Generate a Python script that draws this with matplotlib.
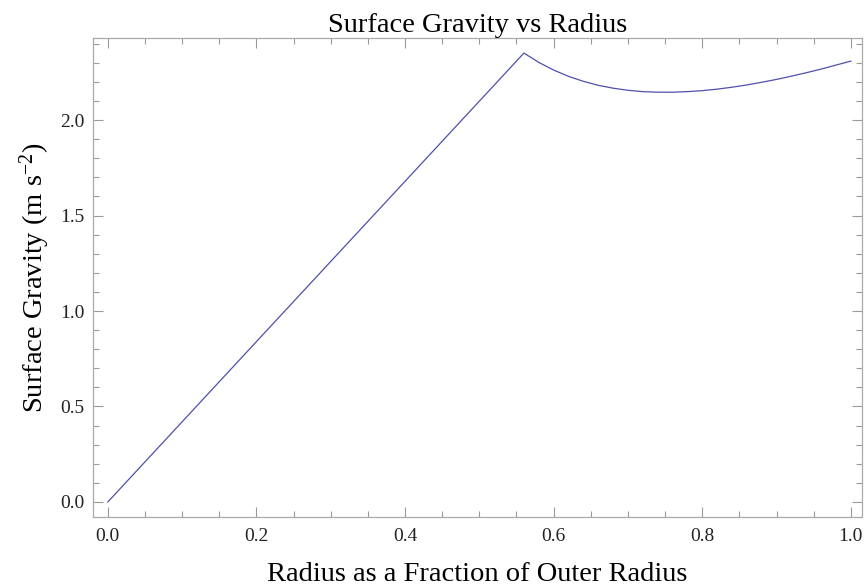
import matplotlib
matplotlib.use("Agg")
import matplotlib.pyplot as plt
from matplotlib.ticker import MultipleLocator

plt.rcParams['font.family'] = ['Liberation Serif', 'DejaVu Serif']
plt.rcParams['mathtext.default'] = 'regular'

# Data
radius = [0.0, 0.56, 0.58, 0.60, 0.62, 0.64, 0.66, 0.68, 0.70, 0.72, 0.74, 0.76,
          0.78, 0.80, 0.82, 0.84, 0.86, 0.88, 0.90, 0.92, 0.94, 0.96, 0.98, 1.00]
gravity = [0.0, 2.351, 2.302, 2.262, 2.229, 2.203, 2.182, 2.167, 2.156, 2.149, 2.146, 2.146,
           2.149, 2.154, 2.162, 2.172, 2.184, 2.198, 2.213, 2.230, 2.248, 2.267, 2.288, 2.309]
xticks = [0.0, 0.2, 0.4, 0.6, 0.8, 1.0]
yticks = [0.0, 0.5, 1.0, 1.5, 2.0]

fig = plt.figure(figsize=(8.64, 5.86), dpi=100)
ax = fig.add_axes([0.1076, 0.1177, 0.8901, 0.8175])
ax.plot(radius, gravity, color='#5050ad', lw=0.9)

ax.set_xlim(-0.02, 1.015)
ax.set_ylim(-0.079, 2.43)
ax.set_xticks(xticks)
ax.set_yticks(yticks)
ax.set_xticklabels([f"{v:.1f}" for v in xticks])
ax.set_yticklabels([f"{v:.1f}" for v in yticks])
ax.xaxis.set_minor_locator(MultipleLocator(0.05))
ax.yaxis.set_minor_locator(MultipleLocator(0.1))
ax.tick_params(which='both', direction='in', top=True, right=True, color='#999999',
               labelsize=14, labelcolor='#222222', width=0.8)
ax.tick_params(which='major', length=7)
ax.tick_params(which='minor', length=4)
ax.tick_params(axis='x', which='major', pad=8)
ax.tick_params(axis='y', which='major', pad=6)
for s in ax.spines.values():
    s.set_color('#aaaaaa')
    s.set_linewidth(0.9)

ax.set_title('Surface Gravity vs Radius', fontsize=20.5, pad=3)
ax.set_xlabel('Radius as a Fraction of Outer Radius', fontsize=20.5, labelpad=12)
ax.set_ylabel('Surface Gravity (m s$^{-2}$)', fontsize=20.5, labelpad=6)

fig.savefig('out.png', dpi=100)
